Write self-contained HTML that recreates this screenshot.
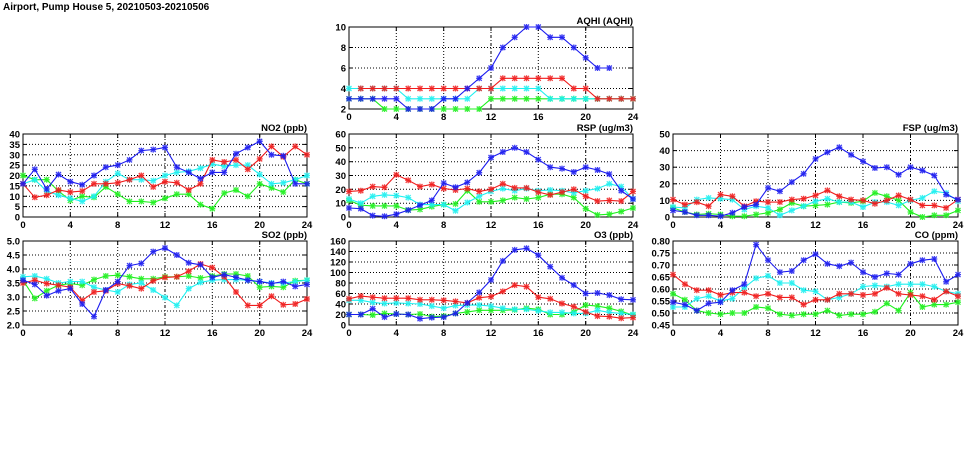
<!DOCTYPE html>
<html><head><meta charset="utf-8"><style>
html,body{margin:0;padding:0;background:#fff;}
svg text{font-family:"Liberation Sans",sans-serif;font-weight:bold;}
</style></head><body>
<svg id="s" width="975" height="447" xmlns="http://www.w3.org/2000/svg"></svg>
<script>
const C={b:"#1c1cf0",r:"#f01c1c",c:"#1ef0f0",g:"#1ef01e"};
const P=[
{t:"AQHI (AQHI)",x0:349,x1:633,y0:27,y1:109,mn:2,mx:10,tk:[2,4,6,8,10],f:0,
 s:{g:[3,3,3,2,2,2,2,2,2,2,2,2,3,3,3,3,3,3,3,3,3,3,3,3,3],
 c:[4,4,4,4,4,3,3,3,3,3,3,4,4,4,4,4,4,3,3,3,3,3,3,3,3],
 r:[null,4,4,4,4,4,4,4,4,4,4,4,4,5,5,5,5,5,5,4,4,3,3,3,3],
 b:[3,3,3,3,3,2,2,2,3,3,4,5,6,8,9,10,10,9,9,8,7,6,6,null,null]}},
{t:"NO2 (ppb)",x0:23,x1:307,y0:134,y1:217,mn:0,mx:40,tk:[0,5,10,15,20,25,30,35,40],f:0,
 s:{g:[20,18,18,12.5,8,10,9.5,14.5,11,7.5,7.5,7,9,11,11,6,4,11.5,13,10,16,14,12,18,16],
 c:[16,18,12.5,10.5,9,7.5,10,17,21,18,18,17.5,20,21.5,22,23.5,25.5,24.5,25,25,20.5,16,16.5,18,20],
 r:[16,9.5,10.5,13,12,12.5,16,16,16.5,18,20,14.5,17,16.5,13,16,27.5,26.5,27.5,23,28,34,29,34,30],
 b:[16,23,13.5,20.5,17,15.5,20,24,25,27.5,32,32.5,33.5,24,21.5,18.5,21.5,21.5,30.5,33.5,36.5,30,29.5,16,16]}},
{t:"RSP (ug/m3)",x0:349,x1:633,y0:134,y1:217,mn:0,mx:60,tk:[0,10,20,30,40,50,60],f:0,
 s:{g:[12,8.5,8,8,8,5,5.5,7.5,9,9.5,19,11,11,12,14,13,14,16.5,16.5,14,6,1.5,2,4,6.5],
 c:[13,10,15,16,15.5,14,9,9,9,4.5,10.5,15,18.5,20.5,19,20.5,19,19.5,19,17.5,19,20.5,24,22,13],
 r:[18.5,19,22,21.5,30.5,26.5,22,23.5,20.5,19.5,20.5,18.5,20,24,21,21,18,16,18,20,15,11.5,12,11.5,18.5],
 b:[6.5,6,1,0.5,2,5,8.5,12,24.5,21.5,25,32,43,47,50,47,41.5,36,35,32.5,36,34,31,19,13]}},
{t:"FSP (ug/m3)",x0:673,x1:958,y0:134,y1:217,mn:0,mx:50,tk:[0,10,20,30,40,50],f:0,
 s:{g:[5.5,3,1.5,2,1.5,0.5,0.5,1.5,2.5,4.5,8.5,6.5,7,7.5,9,8.5,9.5,14.5,12.5,10,3,0,1,1,4],
 c:[6,5.5,10.5,11.5,11,10.5,4.5,6.5,5.5,1,4,6.5,9.5,11,9,9,6,9,9,7,10,11.5,15.5,14.5,9.5],
 r:[10.5,7.5,9,6.5,13.5,12.5,6.5,9.5,9,9,10.5,11,13,16,12.5,10.5,10,8,10,13,10.5,7,7,5.5,10.5],
 b:[4,3,1,1,0.5,2.5,6,7.5,17.5,15.5,21,26,35,39,42,37.5,33.5,29.5,30,25.5,30,28,25,13.5,10.5]}},
{t:"SO2 (ppb)",x0:23,x1:307,y0:241,y1:325,mn:2,mx:5,tk:[2,2.5,3,3.5,4,4.5,5],f:1,
 s:{g:[3.6,2.95,3.22,3.42,3.48,3.42,3.62,3.75,3.78,3.72,3.65,3.65,3.72,3.72,3.75,3.68,3.75,3.82,3.82,3.75,3.35,3.38,3.35,3.58,3.6],
 c:[3.72,3.75,3.65,3.5,3.55,3.55,3.35,3.25,3.18,3.45,3.5,3.25,2.98,2.7,3.3,3.52,3.6,3.62,3.62,3.6,3.55,3.5,3.5,3.55,3.6],
 r:[3.5,3.6,3.48,3.42,3.35,2.88,3.18,3.22,3.48,3.4,3.3,3.58,3.7,3.72,3.92,4.18,4.05,3.72,3.18,2.7,2.7,3.03,2.72,2.75,2.93],
 b:[3.6,3.45,3.05,3.22,3.3,2.75,2.3,3.25,3.55,4.12,4.2,4.62,4.75,4.5,4.22,4.15,3.7,3.8,3.7,3.6,3.55,3.48,3.55,3.38,3.45]}},
{t:"O3 (ppb)",x0:349,x1:633,y0:241,y1:325,mn:0,mx:160,tk:[0,20,40,60,80,100,120,140,160],f:0,
 s:{g:[20,20,19,22,21,20,21,16,17,22,25,28,28,28,29,32,30,20,20,25,38,36,32,26,19],
 c:[47,47,43,41,42,41,40,36,32,37,38,38,36,32,30,30,27,24,24,22,22,28,24,22,20],
 r:[50,55,53,51,51,51,48,48,47,45,42,52,54,64,76,73,53,50,41,35,25,17,16,13,14],
 b:[20,20,31,15,21,20,12,14,15,22,42,62,86,122,143,146,133,111,90,76,60,61,57,49,48]}},
{t:"CO (ppm)",x0:673,x1:958,y0:241,y1:325,mn:0.45,mx:0.8,tk:[0.45,0.5,0.55,0.6,0.65,0.7,0.75,0.8],f:2,
 s:{g:[0.58,0.555,0.51,0.5,0.495,0.5,0.5,0.525,0.52,0.495,0.49,0.495,0.495,0.51,0.49,0.495,0.495,0.505,0.54,0.51,0.585,0.525,0.535,0.535,0.545],
 c:[0.525,0.525,0.56,0.57,0.55,0.56,0.605,0.645,0.655,0.625,0.625,0.595,0.59,0.555,0.565,0.58,0.61,0.615,0.61,0.62,0.62,0.62,0.61,0.59,0.58],
 r:[0.66,0.62,0.595,0.595,0.575,0.585,0.585,0.57,0.58,0.565,0.565,0.535,0.555,0.555,0.58,0.58,0.575,0.58,0.605,0.58,0.575,0.57,0.555,0.59,0.57],
 b:[0.545,0.535,0.51,0.54,0.545,0.595,0.62,0.785,0.72,0.67,0.675,0.72,0.745,0.705,0.695,0.71,0.67,0.65,0.665,0.66,0.705,0.72,0.725,0.63,0.66]}}
];
let h='<text x="3" y="10" font-size="10">Airport, Pump House 5, 20210503-20210506</text>';
for(const p of P){
 const X=i=>p.x0+(p.x1-p.x0)*i/24, Y=v=>p.y1-(p.y1-p.y0)*(v-p.mn)/(p.mx-p.mn);
 // grid
 for(let i=4;i<24;i+=4){const x=X(i).toFixed(1);h+=`<line x1="${x}" y1="${p.y0}" x2="${x}" y2="${p.y1}" stroke="#000" stroke-width="1" stroke-dasharray="${(i==12||i==20)?'3,2,1,2':'1,2'}"/>`;}
 for(const t of p.tk){const y=Y(t).toFixed(1);
  if(t!=p.mn&&t!=p.mx)h+=`<line x1="${p.x0}" y1="${y}" x2="${p.x1}" y2="${y}" stroke="#000" stroke-dasharray="1,2"/>`;
  h+=`<line x1="${p.x0}" y1="${y}" x2="${p.x0+4}" y2="${y}" stroke="#000"/><line x1="${p.x1}" y1="${y}" x2="${p.x1-4}" y2="${y}" stroke="#000"/>`;
  h+=`<text x="${p.x0-3}" y="${(+y+3.5).toFixed(1)}" font-size="9.5" text-anchor="end">${t.toFixed(p.f)}</text>`;}
 for(let i=0;i<=24;i+=4){const x=X(i).toFixed(1);
  h+=`<line x1="${x}" y1="${p.y1}" x2="${x}" y2="${p.y1-4}" stroke="#000"/><line x1="${x}" y1="${p.y0}" x2="${x}" y2="${p.y0+4}" stroke="#000"/>`;
  h+=`<text x="${x}" y="${p.y1+11}" font-size="9.5" text-anchor="middle">${i}</text>`;}
 h+=`<text x="${p.x1}" y="${p.y0-3}" font-size="9.5" text-anchor="end">${p.t}</text>`;
 h+=`<rect x="${p.x0}" y="${p.y0}" width="${p.x1-p.x0}" height="${p.y1-p.y0}" fill="none" stroke="#000"/>`;
 for(const k of ["g","c","r","b"]){const d=p.s[k];let path="",pen=false,mk="";
  d.forEach((v,i)=>{if(v==null){pen=false;return;}const x=X(i),y=Y(v);
   path+=(pen?"L":"M")+x.toFixed(1)+","+y.toFixed(1);pen=true;
   mk+=`M${(x-2.5).toFixed(1)},${(y-2.5).toFixed(1)}l5,5m0,-5l-5,5M${(x-3).toFixed(1)},${y.toFixed(1)}h6M${x.toFixed(1)},${(y-3).toFixed(1)}v6`;});
  h+=`<path d="${path}" fill="none" stroke="${C[k]}" stroke-width="1.1"/>`;
  h+=`<path d="${mk}" fill="none" stroke="${C[k]}" stroke-width="1.3" opacity="0.85"/>`;}
}
document.getElementById("s").innerHTML=h;
</script>
</body></html>
